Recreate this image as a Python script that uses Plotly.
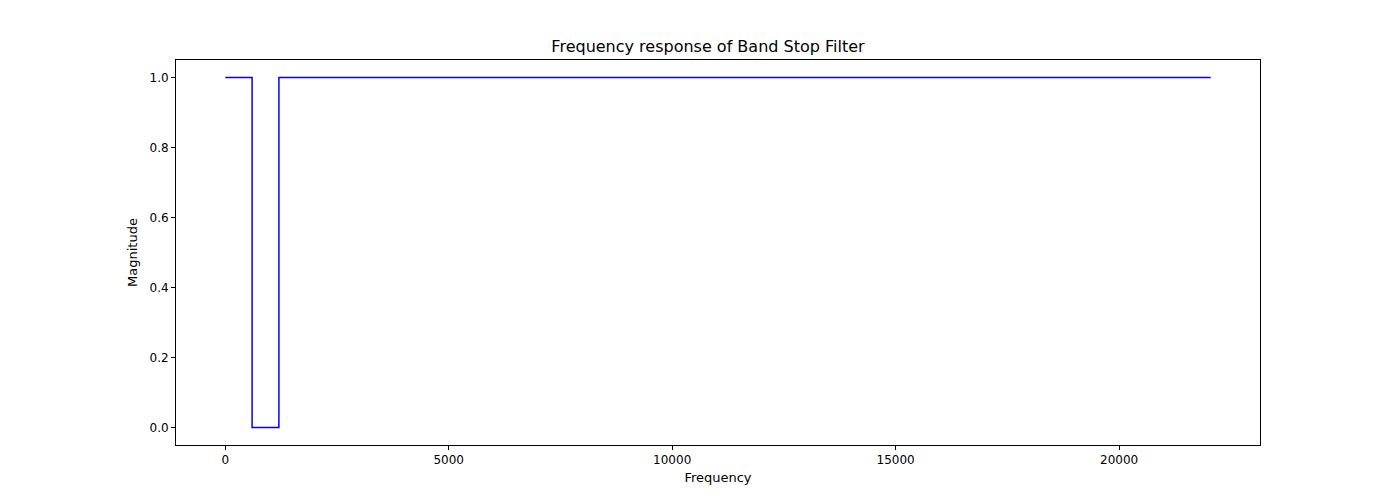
import plotly.graph_objects as go

freqs = [0, 600, 1200, 22050]
magnitude = [1, 0, 1, 1]
x_ticks = [0, 5000, 10000, 15000, 20000]
y_ticks = [0.0, 0.2, 0.4, 0.6, 0.8, 1.0]

fig = go.Figure(go.Scatter(x=freqs, y=magnitude, mode="lines", line_shape="hv",
                           line=dict(color="blue", width=1.5)))
ax = dict(showline=True, linecolor="black", linewidth=1, mirror=True, ticks="outside",
          ticklen=4, tickcolor="black", showgrid=False, zeroline=False,
          tickfont=dict(family="DejaVu Sans", size=12, color="black"))
fig.update_xaxes(**ax, range=[-1102.5, 23152.5], tickvals=x_ticks,
                 ticktext=[str(v) for v in x_ticks],
                 title=dict(text="Frequency", font=dict(family="DejaVu Sans", size=13, color="black"), standoff=6))
fig.update_yaxes(**ax, range=[-0.05, 1.05], tickvals=y_ticks,
                 ticktext=[f"{v:.1f}" for v in y_ticks],
                 title=dict(text="Magnitude", font=dict(family="DejaVu Sans", size=13, color="black"), standoff=8))
fig.update_layout(width=1400, height=500, plot_bgcolor="white", paper_bgcolor="white",
                  margin=dict(l=168, r=148, t=52, b=63), showlegend=False,
                  title=dict(text="Frequency response of Band Stop Filter", x=0.5, xanchor="center",
                             y=1 - 38/500, yanchor="middle",
                             font=dict(family="DejaVu Sans", size=16, color="black")))
fig.write_html("out.html")
